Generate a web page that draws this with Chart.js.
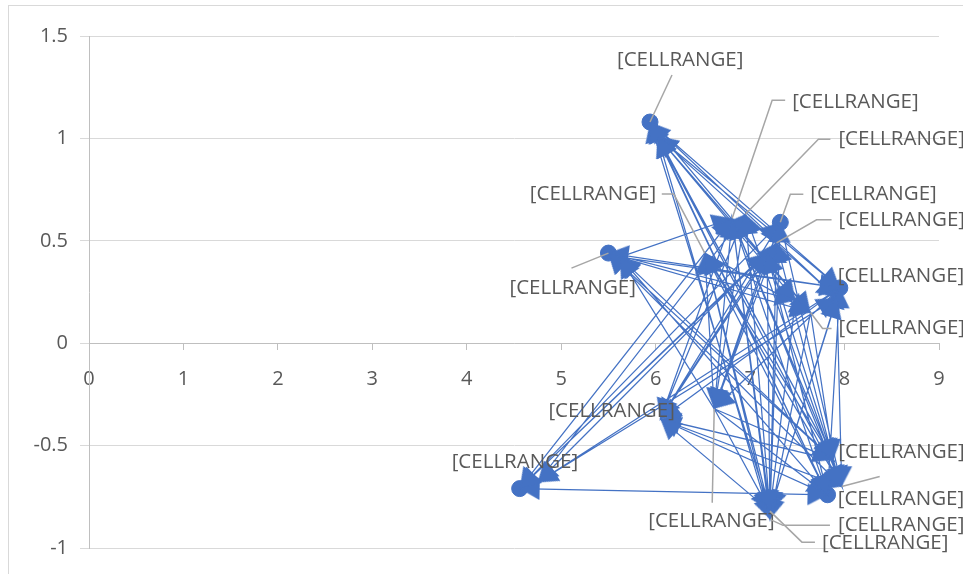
<!DOCTYPE html>
<html>
<head>
<meta charset="utf-8">
<script src="https://cdn.jsdelivr.net/npm/chart.js@4"></script>
<style>
  body { margin: 0; background: #fff; }
  #wrap { width: 963px; height: 574px; position: relative; }
</style>
</head>
<body>
<div id="wrap"><canvas id="chart"></canvas></div>
<script>
// points (x, y)
const nodeX = [5.94, 6.02, 6.81, 7.32, 7.28, 5.50, 5.62, 6.52, 7.18, 7.95, 7.92, 7.48, 7.64, 6.05, 6.62, 4.56, 4.75, 7.21, 7.88, 7.82, 7.97, 6.95, 7.21];
const nodeY = [1.08, 1.01, 0.61, 0.59, 0.49, 0.44, 0.42, 0.44, 0.44, 0.27, 0.22, 0.21, 0.15, -0.37, -0.32, -0.71, -0.68, -0.82, -0.57, -0.74, -0.70, 0.63, -0.86];

// order the arrows run through the points
const pathOrder = [0,17,9,5,18,2,15,3,13,20,1,19,7,12,0,18,6,9,14,17,4,16,10,1,22,2,19,15,8,18,13,3,20,5,11,17,0,20,21,14,19,9,1,12,22,7,18,4,15,19,0,10,17,3,14,18,5,9,13,2,20,1,11,17,8,19,6,12,18,0,9,16,21,17,10,20,7,19,1,18,2,22,2,13,21,14,2,19,13,8,14,7,17,13,4,14,6,2,18,7,20,8,15,2,17,21];

// points that carry a round start marker
const circleNodes = [0, 3, 5, 9, 15, 19];

// data labels
const labelNodes = [0, 2, 21, 7, 3, 4, 5, 9, 12, 13, 15, 18, 20, 14, 22, 17];
const labelText = '[CELLRANGE]';

// tick labels
const xTicks = [0, 1, 2, 3, 4, 5, 6, 7, 8, 9];
const yTicks = [-1, -0.5, 0, 0.5, 1, 1.5];

// label placement: text offset from its point, leader bends relative to the text
const labelLayout = [
  { dx: -33, dy: -62, leader: [[55, 15]] },
  { dx: 60, dy: -116, leader: [[-7, -2], [-20, -2]] },
  { dx: 93, dy: -75, leader: [[-8, 0], [-20, 0]] },
  { dx: -175, dy: -59, leader: [[132, 0], [144, 0]] },
  { dx: 30, dy: -28, leader: [[-7, 0], [-20, 0]] },
  { dx: 62, dy: -23, leader: [[-7, 0], [-22, 0]] },
  { dx: -99, dy: 35, leader: [[62, -20]] },
  { dx: -2, dy: -12, leader: null },
  { dx: 28, dy: 16, leader: [[-7, 0], [-16, 0]] },
  { dx: -112, dy: -8, leader: null },
  { dx: -68, dy: -26, leader: null },
  { dx: 5, dy: -8, leader: null },
  { dx: -4, dy: 13, leader: [[42, -23]] },
  { dx: -66, dy: 112, leader: [[64, -18]] },
  { dx: 68, dy: 6, leader: [[-8, 0], [-55, 0]] },
  { dx: 52, dy: 32, leader: [[-7, -1], [-20, -1]] }
];

const blue = '#4472C4';
const textGrey = '#595959';

const pathPts = pathOrder.map(i => ({ x: nodeX[i], y: nodeY[i] }));
const circlePts = circleNodes.map(i => ({ x: nodeX[i], y: nodeY[i] }));

// arrow head with its tip at the centre of the canvas, so it sits on the point
const arrowHead = (() => {
  const w = 22, h = 20;
  const cv = document.createElement('canvas');
  cv.width = w;
  cv.height = h * 2;
  const c = cv.getContext('2d');
  c.fillStyle = blue;
  c.beginPath();
  c.moveTo(w / 2, h);
  c.lineTo(w, h * 2);
  c.lineTo(0, h * 2);
  c.closePath();
  c.fill();
  return cv;
})();

function arrowAngle(ctx) {
  const i = ctx.dataIndex;
  if (ctx.type !== 'data' || !i) return 0;
  const sx = ctx.chart.scales.x, sy = ctx.chart.scales.y;
  const a = pathPts[i - 1], b = pathPts[i];
  const dx = sx.getPixelForValue(b.x) - sx.getPixelForValue(a.x);
  const dy = sy.getPixelForValue(b.y) - sy.getPixelForValue(a.y);
  return Math.atan2(dy, dx) * 180 / Math.PI + 90;
}

const frame = {
  id: 'frame',
  beforeDraw(chart) {
    const c = chart.ctx;
    c.save();
    c.strokeStyle = '#d9d9d9';
    c.lineWidth = 1;
    c.strokeRect(8.5, 5.5, 1000, 600);
    c.restore();
  }
};

const cellLabels = {
  id: 'cellLabels',
  afterDatasetsDraw(chart) {
    const c = chart.ctx;
    const sx = chart.scales.x, sy = chart.scales.y;
    c.save();
    c.font = "20.5px 'Open Sans'";
    c.textBaseline = 'middle';
    c.textAlign = 'left';
    labelNodes.forEach((n, k) => {
      const px = sx.getPixelForValue(nodeX[n]);
      const py = sy.getPixelForValue(nodeY[n]);
      const lay = labelLayout[k];
      const tx = px + lay.dx, ty = py + lay.dy;
      if (lay.leader) {
        c.strokeStyle = '#a6a6a6';
        c.lineWidth = 1.5;
        c.beginPath();
        lay.leader.forEach((p, j) => {
          if (j === 0) c.moveTo(tx + p[0], ty + p[1]);
          else c.lineTo(tx + p[0], ty + p[1]);
        });
        c.lineTo(px, py);
        c.stroke();
      }
      c.fillStyle = textGrey;
      c.fillText(labelText, tx, ty);
    });
    c.restore();
  }
};

new Chart(document.getElementById('chart'), {
  type: 'scatter',
  data: {
    datasets: [{
      data: pathPts,
      showLine: true,
      borderColor: blue,
      borderWidth: 1.25,
      tension: 0,
      pointStyle: arrowHead,
      pointRadius: ctx => (ctx.dataIndex === 0 ? 0 : 10),
      rotation: arrowAngle
    }, {
      data: circlePts,
      showLine: false,
      pointStyle: 'circle',
      pointRadius: 8,
      pointBackgroundColor: blue,
      pointBorderColor: blue
    }]
  },
  options: {
    responsive: true,
    maintainAspectRatio: false,
    animation: false,
    layout: { padding: { top: 36, right: 24, bottom: 26, left: 0 } },
    plugins: { legend: { display: false }, tooltip: { enabled: false } },
    scales: {
      x: {
        type: 'linear',
        position: { y: 0 },
        min: 0,
        max: 9,
        afterBuildTicks: s => { s.ticks = xTicks.map(v => ({ value: v })); },
        ticks: { color: textGrey, font: { family: 'Open Sans', size: 20 }, padding: 18, callback: v => String(v) },
        grid: { drawOnChartArea: false, drawTicks: true, tickLength: 6, color: '#bfbfbf' },
        border: { color: '#bfbfbf' }
      },
      y: {
        min: -1,
        max: 1.5,
        afterBuildTicks: s => { s.ticks = yTicks.map(v => ({ value: v })); },
        afterFit: s => { s.width = 89; },
        ticks: { color: textGrey, font: { family: 'Open Sans', size: 20 }, padding: 12, callback: v => String(v) },
        grid: { color: '#d9d9d9', tickLength: 9 },
        border: { color: '#bfbfbf' }
      }
    }
  },
  plugins: [frame, cellLabels]
});
</script>
</body>
</html>
